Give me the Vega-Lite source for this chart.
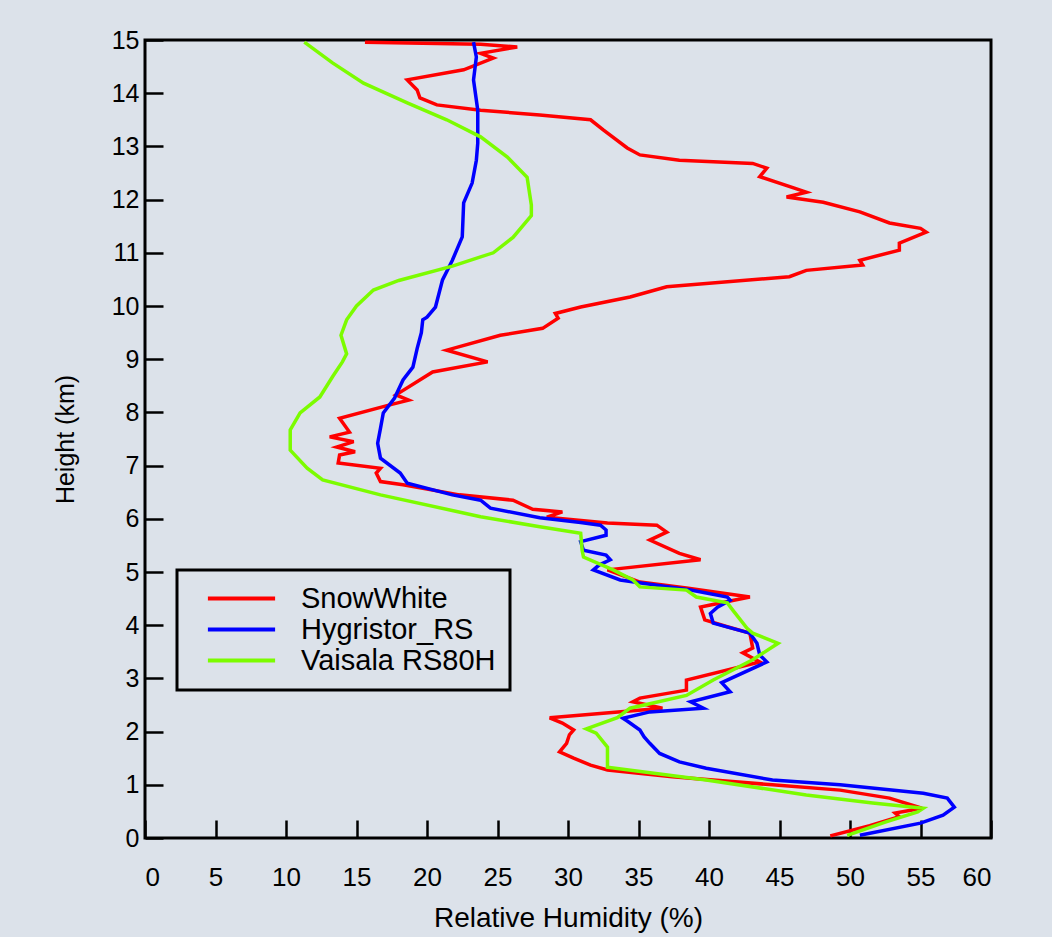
{
 "$schema": "https://vega.github.io/schema/vega-lite/v6.json",
 "autosize": "none",
 "width": 846, "height": 798,
 "padding": {"left": 145, "top": 40, "right": 61, "bottom": 99},
 "background": "#dce2ea",
 "config": {"view": {"stroke": "black", "strokeWidth": 3}, "font": "Liberation Sans"},
 "data": {"values": [
  {"s":"SnowWhite","rh":48.6,"h":0.04},{"s":"SnowWhite","rh":51.4,"h":0.23},{"s":"SnowWhite","rh":53.5,"h":0.40},{"s":"SnowWhite","rh":53.2,"h":0.47},{"s":"SnowWhite","rh":55.1,"h":0.56},{"s":"SnowWhite","rh":52.8,"h":0.75},{"s":"SnowWhite","rh":49.3,"h":0.90},{"s":"SnowWhite","rh":44.5,"h":1.00},{"s":"SnowWhite","rh":37.4,"h":1.15},{"s":"SnowWhite","rh":32.8,"h":1.28},{"s":"SnowWhite","rh":31.6,"h":1.37},{"s":"SnowWhite","rh":30.4,"h":1.50},{"s":"SnowWhite","rh":29.4,"h":1.62},{"s":"SnowWhite","rh":29.9,"h":1.78},{"s":"SnowWhite","rh":30.1,"h":1.94},{"s":"SnowWhite","rh":30.4,"h":2.03},{"s":"SnowWhite","rh":29.6,"h":2.16},{"s":"SnowWhite","rh":28.7,"h":2.26},{"s":"SnowWhite","rh":36.7,"h":2.44},{"s":"SnowWhite","rh":34.6,"h":2.56},{"s":"SnowWhite","rh":35.1,"h":2.63},{"s":"SnowWhite","rh":38.4,"h":2.78},{"s":"SnowWhite","rh":38.4,"h":2.97},{"s":"SnowWhite","rh":43.6,"h":3.31},{"s":"SnowWhite","rh":42.4,"h":3.48},{"s":"SnowWhite","rh":43.1,"h":3.57},{"s":"SnowWhite","rh":42.9,"h":3.85},{"s":"SnowWhite","rh":41.3,"h":3.97},{"s":"SnowWhite","rh":39.7,"h":4.10},{"s":"SnowWhite","rh":39.4,"h":4.34},{"s":"SnowWhite","rh":40.1,"h":4.38},{"s":"SnowWhite","rh":42.9,"h":4.53},{"s":"SnowWhite","rh":38.4,"h":4.70},{"s":"SnowWhite","rh":35.1,"h":4.81},{"s":"SnowWhite","rh":32.8,"h":5.04},{"s":"SnowWhite","rh":39.4,"h":5.23},{"s":"SnowWhite","rh":37.9,"h":5.35},{"s":"SnowWhite","rh":35.8,"h":5.60},{"s":"SnowWhite","rh":37.0,"h":5.75},{"s":"SnowWhite","rh":36.3,"h":5.88},{"s":"SnowWhite","rh":32.8,"h":5.92},{"s":"SnowWhite","rh":28.5,"h":6.03},{"s":"SnowWhite","rh":29.6,"h":6.13},{"s":"SnowWhite","rh":27.5,"h":6.18},{"s":"SnowWhite","rh":26.1,"h":6.35},{"s":"SnowWhite","rh":22.3,"h":6.45},{"s":"SnowWhite","rh":18.3,"h":6.64},{"s":"SnowWhite","rh":16.7,"h":6.70},{"s":"SnowWhite","rh":16.4,"h":6.86},{"s":"SnowWhite","rh":16.7,"h":6.95},{"s":"SnowWhite","rh":13.7,"h":7.05},{"s":"SnowWhite","rh":13.8,"h":7.20},{"s":"SnowWhite","rh":14.9,"h":7.26},{"s":"SnowWhite","rh":13.6,"h":7.35},{"s":"SnowWhite","rh":14.8,"h":7.45},{"s":"SnowWhite","rh":13.1,"h":7.54},{"s":"SnowWhite","rh":14.5,"h":7.63},{"s":"SnowWhite","rh":13.8,"h":7.89},{"s":"SnowWhite","rh":17.5,"h":8.15},{"s":"SnowWhite","rh":18.7,"h":8.23},{"s":"SnowWhite","rh":17.8,"h":8.33},{"s":"SnowWhite","rh":20.4,"h":8.76},{"s":"SnowWhite","rh":24.3,"h":8.95},{"s":"SnowWhite","rh":21.4,"h":9.17},{"s":"SnowWhite","rh":25.2,"h":9.45},{"s":"SnowWhite","rh":28.2,"h":9.58},{"s":"SnowWhite","rh":29.3,"h":9.77},{"s":"SnowWhite","rh":29.1,"h":9.86},{"s":"SnowWhite","rh":30.9,"h":9.98},{"s":"SnowWhite","rh":34.4,"h":10.17},{"s":"SnowWhite","rh":37.0,"h":10.36},{"s":"SnowWhite","rh":45.7,"h":10.55},{"s":"SnowWhite","rh":46.9,"h":10.67},{"s":"SnowWhite","rh":50.9,"h":10.77},{"s":"SnowWhite","rh":50.7,"h":10.86},{"s":"SnowWhite","rh":53.5,"h":11.05},{"s":"SnowWhite","rh":53.5,"h":11.18},{"s":"SnowWhite","rh":55.4,"h":11.39},{"s":"SnowWhite","rh":55.0,"h":11.46},{"s":"SnowWhite","rh":52.8,"h":11.56},{"s":"SnowWhite","rh":50.7,"h":11.77},{"s":"SnowWhite","rh":48.1,"h":11.95},{"s":"SnowWhite","rh":45.5,"h":12.05},{"s":"SnowWhite","rh":46.9,"h":12.14},{"s":"SnowWhite","rh":46.0,"h":12.22},{"s":"SnowWhite","rh":43.6,"h":12.43},{"s":"SnowWhite","rh":44.1,"h":12.59},{"s":"SnowWhite","rh":43.1,"h":12.68},{"s":"SnowWhite","rh":37.9,"h":12.74},{"s":"SnowWhite","rh":35.1,"h":12.84},{"s":"SnowWhite","rh":34.2,"h":12.97},{"s":"SnowWhite","rh":32.5,"h":13.31},{"s":"SnowWhite","rh":31.6,"h":13.50},{"s":"SnowWhite","rh":28.0,"h":13.59},{"s":"SnowWhite","rh":23.8,"h":13.68},{"s":"SnowWhite","rh":20.7,"h":13.78},{"s":"SnowWhite","rh":19.5,"h":13.91},{"s":"SnowWhite","rh":19.3,"h":14.06},{"s":"SnowWhite","rh":18.6,"h":14.25},{"s":"SnowWhite","rh":22.6,"h":14.44},{"s":"SnowWhite","rh":24.7,"h":14.66},{"s":"SnowWhite","rh":23.8,"h":14.75},{"s":"SnowWhite","rh":26.4,"h":14.87},{"s":"SnowWhite","rh":23.8,"h":14.92},{"s":"SnowWhite","rh":15.6,"h":14.96},
  {"s":"Hygristor_RS","rh":50.7,"h":0.05},{"s":"Hygristor_RS","rh":55.0,"h":0.28},{"s":"Hygristor_RS","rh":56.6,"h":0.43},{"s":"Hygristor_RS","rh":57.4,"h":0.58},{"s":"Hygristor_RS","rh":56.9,"h":0.75},{"s":"Hygristor_RS","rh":55.2,"h":0.84},{"s":"Hygristor_RS","rh":49.3,"h":1.00},{"s":"Hygristor_RS","rh":44.5,"h":1.09},{"s":"Hygristor_RS","rh":39.8,"h":1.31},{"s":"Hygristor_RS","rh":37.9,"h":1.43},{"s":"Hygristor_RS","rh":36.5,"h":1.59},{"s":"Hygristor_RS","rh":35.8,"h":1.78},{"s":"Hygristor_RS","rh":35.4,"h":1.90},{"s":"Hygristor_RS","rh":35.1,"h":2.03},{"s":"Hygristor_RS","rh":34.2,"h":2.20},{"s":"Hygristor_RS","rh":33.9,"h":2.25},{"s":"Hygristor_RS","rh":35.8,"h":2.37},{"s":"Hygristor_RS","rh":39.6,"h":2.44},{"s":"Hygristor_RS","rh":38.7,"h":2.56},{"s":"Hygristor_RS","rh":41.5,"h":2.75},{"s":"Hygristor_RS","rh":40.9,"h":2.92},{"s":"Hygristor_RS","rh":44.1,"h":3.31},{"s":"Hygristor_RS","rh":43.6,"h":3.44},{"s":"Hygristor_RS","rh":43.4,"h":3.66},{"s":"Hygristor_RS","rh":42.9,"h":3.85},{"s":"Hygristor_RS","rh":40.3,"h":4.04},{"s":"Hygristor_RS","rh":40.1,"h":4.22},{"s":"Hygristor_RS","rh":40.6,"h":4.34},{"s":"Hygristor_RS","rh":41.5,"h":4.47},{"s":"Hygristor_RS","rh":41.3,"h":4.53},{"s":"Hygristor_RS","rh":38.7,"h":4.66},{"s":"Hygristor_RS","rh":35.3,"h":4.79},{"s":"Hygristor_RS","rh":33.7,"h":4.85},{"s":"Hygristor_RS","rh":31.8,"h":5.04},{"s":"Hygristor_RS","rh":32.2,"h":5.13},{"s":"Hygristor_RS","rh":33.0,"h":5.23},{"s":"Hygristor_RS","rh":32.7,"h":5.32},{"s":"Hygristor_RS","rh":31.1,"h":5.41},{"s":"Hygristor_RS","rh":30.9,"h":5.57},{"s":"Hygristor_RS","rh":32.7,"h":5.69},{"s":"Hygristor_RS","rh":32.7,"h":5.79},{"s":"Hygristor_RS","rh":32.3,"h":5.88},{"s":"Hygristor_RS","rh":30.9,"h":5.93},{"s":"Hygristor_RS","rh":28.0,"h":6.02},{"s":"Hygristor_RS","rh":24.5,"h":6.20},{"s":"Hygristor_RS","rh":23.8,"h":6.35},{"s":"Hygristor_RS","rh":21.8,"h":6.45},{"s":"Hygristor_RS","rh":18.6,"h":6.67},{"s":"Hygristor_RS","rh":18.1,"h":6.86},{"s":"Hygristor_RS","rh":16.7,"h":7.14},{"s":"Hygristor_RS","rh":16.5,"h":7.42},{"s":"Hygristor_RS","rh":16.7,"h":7.70},{"s":"Hygristor_RS","rh":16.9,"h":7.99},{"s":"Hygristor_RS","rh":17.7,"h":8.27},{"s":"Hygristor_RS","rh":18.3,"h":8.61},{"s":"Hygristor_RS","rh":19.0,"h":8.85},{"s":"Hygristor_RS","rh":19.3,"h":9.20},{"s":"Hygristor_RS","rh":19.6,"h":9.50},{"s":"Hygristor_RS","rh":19.7,"h":9.74},{"s":"Hygristor_RS","rh":20.0,"h":9.79},{"s":"Hygristor_RS","rh":20.6,"h":9.98},{"s":"Hygristor_RS","rh":21.1,"h":10.49},{"s":"Hygristor_RS","rh":21.8,"h":10.86},{"s":"Hygristor_RS","rh":22.5,"h":11.30},{"s":"Hygristor_RS","rh":22.6,"h":11.94},{"s":"Hygristor_RS","rh":23.2,"h":12.31},{"s":"Hygristor_RS","rh":23.5,"h":12.74},{"s":"Hygristor_RS","rh":23.6,"h":13.06},{"s":"Hygristor_RS","rh":23.6,"h":13.68},{"s":"Hygristor_RS","rh":23.3,"h":14.25},{"s":"Hygristor_RS","rh":23.5,"h":14.68},{"s":"Hygristor_RS","rh":23.3,"h":14.96},
  {"s":"Vaisala RS80H","rh":49.8,"h":0.05},{"s":"Vaisala RS80H","rh":52.5,"h":0.30},{"s":"Vaisala RS80H","rh":54.8,"h":0.49},{"s":"Vaisala RS80H","rh":55.2,"h":0.56},{"s":"Vaisala RS80H","rh":51.6,"h":0.66},{"s":"Vaisala RS80H","rh":46.9,"h":0.81},{"s":"Vaisala RS80H","rh":39.8,"h":1.09},{"s":"Vaisala RS80H","rh":32.8,"h":1.33},{"s":"Vaisala RS80H","rh":32.8,"h":1.71},{"s":"Vaisala RS80H","rh":32.0,"h":1.97},{"s":"Vaisala RS80H","rh":31.3,"h":2.05},{"s":"Vaisala RS80H","rh":33.5,"h":2.26},{"s":"Vaisala RS80H","rh":34.4,"h":2.44},{"s":"Vaisala RS80H","rh":38.4,"h":2.68},{"s":"Vaisala RS80H","rh":40.3,"h":2.97},{"s":"Vaisala RS80H","rh":43.1,"h":3.35},{"s":"Vaisala RS80H","rh":44.9,"h":3.66},{"s":"Vaisala RS80H","rh":43.1,"h":3.85},{"s":"Vaisala RS80H","rh":42.7,"h":3.94},{"s":"Vaisala RS80H","rh":41.7,"h":4.28},{"s":"Vaisala RS80H","rh":41.3,"h":4.42},{"s":"Vaisala RS80H","rh":39.1,"h":4.53},{"s":"Vaisala RS80H","rh":38.4,"h":4.66},{"s":"Vaisala RS80H","rh":35.1,"h":4.72},{"s":"Vaisala RS80H","rh":34.6,"h":4.85},{"s":"Vaisala RS80H","rh":33.2,"h":5.04},{"s":"Vaisala RS80H","rh":31.1,"h":5.28},{"s":"Vaisala RS80H","rh":31.0,"h":5.41},{"s":"Vaisala RS80H","rh":30.9,"h":5.73},{"s":"Vaisala RS80H","rh":28.0,"h":5.85},{"s":"Vaisala RS80H","rh":23.8,"h":6.04},{"s":"Vaisala RS80H","rh":16.7,"h":6.45},{"s":"Vaisala RS80H","rh":12.6,"h":6.73},{"s":"Vaisala RS80H","rh":11.5,"h":6.95},{"s":"Vaisala RS80H","rh":10.3,"h":7.29},{"s":"Vaisala RS80H","rh":10.3,"h":7.67},{"s":"Vaisala RS80H","rh":11.0,"h":7.99},{"s":"Vaisala RS80H","rh":12.4,"h":8.29},{"s":"Vaisala RS80H","rh":13.3,"h":8.67},{"s":"Vaisala RS80H","rh":14.0,"h":8.95},{"s":"Vaisala RS80H","rh":14.3,"h":9.10},{"s":"Vaisala RS80H","rh":13.9,"h":9.45},{"s":"Vaisala RS80H","rh":14.3,"h":9.74},{"s":"Vaisala RS80H","rh":15.0,"h":10.00},{"s":"Vaisala RS80H","rh":16.2,"h":10.30},{"s":"Vaisala RS80H","rh":18.0,"h":10.48},{"s":"Vaisala RS80H","rh":21.8,"h":10.75},{"s":"Vaisala RS80H","rh":24.7,"h":11.00},{"s":"Vaisala RS80H","rh":26.1,"h":11.29},{"s":"Vaisala RS80H","rh":27.4,"h":11.70},{"s":"Vaisala RS80H","rh":27.4,"h":11.90},{"s":"Vaisala RS80H","rh":27.1,"h":12.42},{"s":"Vaisala RS80H","rh":25.7,"h":12.80},{"s":"Vaisala RS80H","rh":23.8,"h":13.18},{"s":"Vaisala RS80H","rh":21.4,"h":13.50},{"s":"Vaisala RS80H","rh":18.6,"h":13.82},{"s":"Vaisala RS80H","rh":15.5,"h":14.19},{"s":"Vaisala RS80H","rh":13.3,"h":14.57},{"s":"Vaisala RS80H","rh":11.3,"h":14.96}
 ]},
 "mark": {"type": "line", "strokeWidth": 3.5},
 "encoding": {
  "x": {"field": "rh", "type": "quantitative",
   "scale": {"domain": [0, 60], "nice": false, "zero": false},
   "axis": {"title": "Relative Humidity (%)", "values": [0,5,10,15,20,25,30,35,40,45,50,55,60],
    "grid": false, "domain": false, "tickSize": -18, "tickWidth": 2.5, "tickColor": "black",
    "labelFontSize": 26, "labelColor": "black", "labelPadding": 44,
    "titleFontSize": 28, "titleFontWeight": "normal", "titleColor": "black", "titlePadding": 14}},
  "y": {"field": "h", "type": "quantitative",
   "scale": {"domain": [0, 15], "nice": false, "zero": false},
   "axis": {"title": "Height (km)", "values": [0,1,2,3,4,5,6,7,8,9,10,11,12,13,14,15],
    "grid": false, "domain": false, "tickSize": -18, "tickWidth": 2.5, "tickColor": "black",
    "labelFontSize": 25, "labelColor": "black", "labelPadding": 24,
    "titleFontSize": 25, "titleFontWeight": "normal", "titleColor": "black", "titlePadding": 33}},
  "color": {"field": "s", "type": "nominal",
   "scale": {"domain": ["SnowWhite", "Hygristor_RS", "Vaisala RS80H"], "range": ["#ff0000", "#0000ff", "#7cfc00"]},
   "legend": {"title": null, "orient": "none", "legendX": 32, "legendY": 530,
    "symbolType": "M-4.8,0H4.8", "symbolSize": 196, "symbolStrokeWidth": 4, "symbolOffset": 36,
    "labelFontSize": 29, "labelColor": "black", "labelOffset": 45, "labelLimit": 400, "padding": 14,
    "strokeColor": "black", "rowPadding": 1,
    "encode": {"legend": {"update": {"strokeWidth": {"value": 3}, "width": {"value": 333}}}}}},
  "order": {"field": "h", "type": "quantitative"}
 }
}
